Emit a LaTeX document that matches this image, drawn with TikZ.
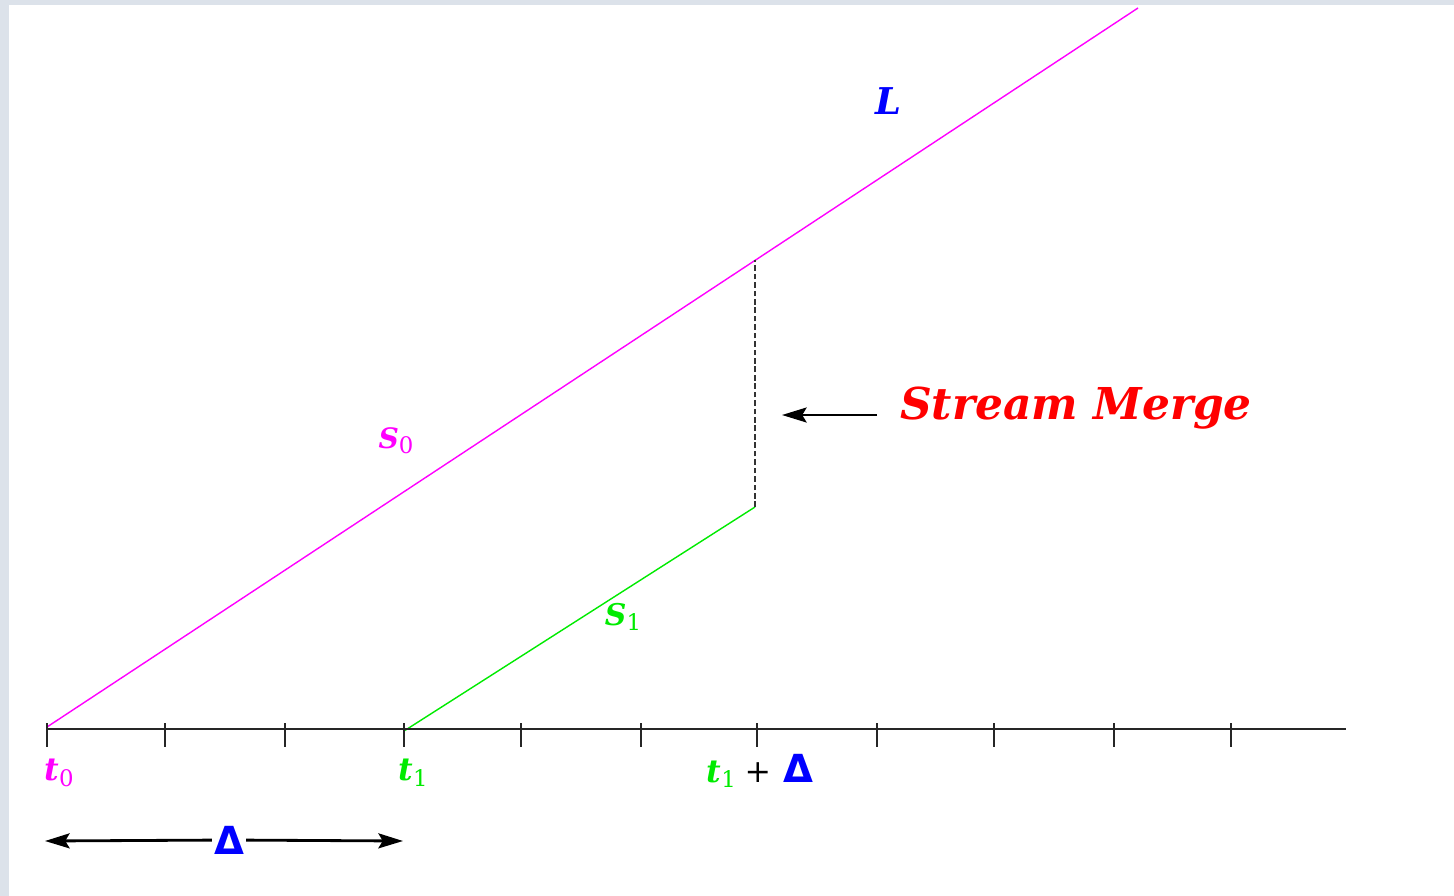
\documentclass[tikz,border=0pt]{standalone}
\usepackage{fontspec}
\setmainfont{DejaVu Serif}
\newfontfamily\deltafont{DejaVu Sans}
\usepackage{tikz}
\usetikzlibrary{arrows.meta, positioning, calc}
\definecolor{slidebg}{RGB}{220,226,234}
\definecolor{spink}{RGB}{255,0,255}
\definecolor{sgreen}{RGB}{0,235,0}
\newcommand{\lowsub}[1]{\raisebox{-0.35ex}{\fontsize{13}{13}\selectfont\mdseries\upshape #1}}
\newcommand{\dlt}{{\deltafont\bfseries Δ}}
\tikzset{
    stream/.style={line width=0.8pt},
    axis/.style={line width=1pt, draw=black!85},
    tick/.style={line width=1.5pt, draw=black!85},
    merge/.style={line width=1.4pt, draw=black!80, dash pattern=on 3.2pt off 1.6pt},
    arrow/.style={-{Stealth[length=14pt, width=8.5pt, inset=2.5pt]}, line width=1.6pt, draw=black},
    lbl/.style={inner sep=1pt, font=\bfseries\itshape},
    delta/.style={inner sep=1pt, text=blue, font=\fontsize{22}{22}\selectfont}
}
\begin{document}
\begin{tikzpicture}[x=0.02cm, y=-0.02cm]
        % background
        \fill[slidebg] (0,0) rectangle (1454,896);
        \fill[white] (9,5) rectangle (1454,896);
        \useasboundingbox (0,0) rectangle (1454,896);

        % streams
        \coordinate (t0) at (47,727);
        \coordinate (sTop) at (1138,8);
        \coordinate (t1) at (404,731);
        \coordinate (mergeLow) at (755,507);
        \coordinate (mergeHigh) at (755,260);

        \draw[stream, spink] (t0) -- (sTop);
        \draw[stream, sgreen] (t1) -- (mergeLow);
        \draw[merge] (mergeLow) -- (mergeHigh);

        % time axis
        \coordinate (axisL) at (47,729);
        \coordinate (axisR) at (1346,729);
        \draw[axis] (axisL) -- (axisR);
        \foreach \x in {47,165,285,404,521,641,757,877,994,1114,1231}
            \draw[tick] (\x,723) -- (\x,747);

        % labels
        \node[lbl, text=blue, font=\fontsize{21}{21}\selectfont\bfseries\itshape] (lblL) at (888,101) {L};
        \node[lbl, text=spink, font=\fontsize{16}{16}\selectfont\bfseries\itshape] (lblS0) at (396,441) {S\lowsub{0}};
        \node[lbl, text=sgreen, font=\fontsize{17}{17}\selectfont\bfseries\itshape] (lblS1) at (623,617) {S\lowsub{1}};
        \node[lbl, text=spink, font=\fontsize{18}{18}\selectfont\bfseries\itshape] (lblT0) at (59,773) {t\lowsub{0}};
        \node[lbl, text=sgreen, font=\fontsize{18}{18}\selectfont\bfseries\itshape] (lblT1) at (413,773) {t\lowsub{1}};
        \node[lbl, font=\fontsize{18}{18}\selectfont\bfseries\itshape] (lblT1D) at (760,771)
            {\textcolor{sgreen}{t\lowsub{1}}\hspace{5pt}{\fontsize{18}{18}\selectfont\mdseries\upshape +}\hspace{7pt}\textcolor{blue}{\fontsize{22}{22}\selectfont\upshape\dlt}};
        \node[lbl, text=red, font=\fontsize{25}{25}\selectfont\bfseries\itshape] (lblMerge) at (1076,408) {Stream Merge};

        % merge arrow
        \coordinate (mTail) at (877,415);
        \coordinate (mHead) at (782,415);
        \draw[arrow] (mTail) -- (mHead);

        % delta span
        \node[delta] (dlt) at (229,840) {\dlt};
        \coordinate (dLeft) at (45,841);
        \coordinate (dRight) at (403,841);
        \draw[arrow] (dlt) -- (dLeft);
        \draw[arrow] (dlt) -- (dRight);
    \end{tikzpicture}
\end{document}
